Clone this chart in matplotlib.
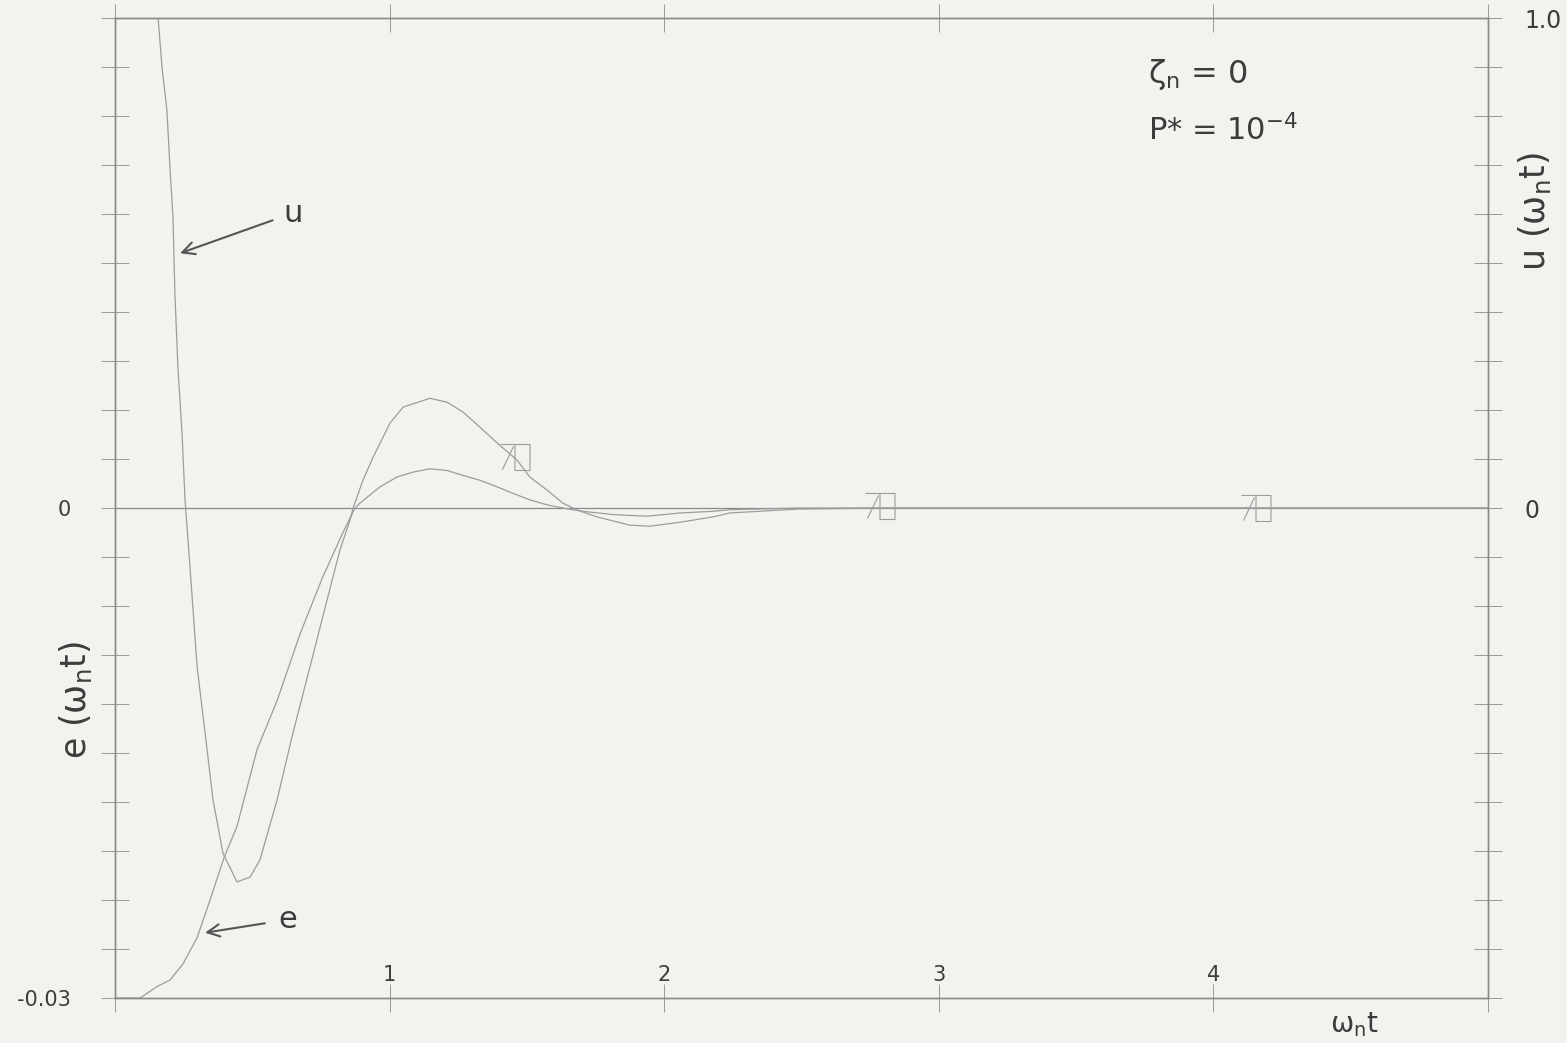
import numpy as np
import matplotlib
matplotlib.use("Agg")
from matplotlib import pyplot as plt
from matplotlib.path import Path

# control u(w_n t), right axis
t_u = [0.0, 0.157, 0.171, 0.189, 0.200, 0.211, 0.218, 0.229, 0.244, 0.255,
       0.273, 0.299, 0.328, 0.357, 0.393, 0.444, 0.492, 0.528, 0.590, 0.648,
       0.710, 0.772, 0.819, 0.856, 0.867, 0.903, 0.940, 1.001, 1.049, 1.147,
       1.209, 1.267, 1.329, 1.391, 1.464, 1.511, 1.573, 1.631, 1.682, 1.755,
       1.875, 1.948, 2.058, 2.178, 2.240, 2.49, 2.80, 5.0]
u_vals = [1.0, 1.0, 0.900, 0.812, 0.696, 0.594, 0.439, 0.288, 0.153, 0.016,
          -0.120, -0.324, -0.459, -0.596, -0.704, -0.763, -0.753, -0.718, -0.596, -0.459,
          -0.324, -0.188, -0.086, -0.024, 0.0, 0.057, 0.104, 0.173, 0.206, 0.224,
          0.216, 0.196, 0.165, 0.133, 0.098, 0.063, 0.037, 0.010, -0.004, -0.018,
          -0.035, -0.037, -0.029, -0.018, -0.010, -0.002, 0.0, 0.0]

# error e(w_n t), left axis
t_e = [0.0, 0.091, 0.153, 0.200, 0.248, 0.299, 0.346, 0.397, 0.444, 0.517,
       0.590, 0.674, 0.757, 0.830, 0.874, 0.892, 0.965, 1.027, 1.085, 1.147,
       1.209, 1.267, 1.329, 1.391, 1.449, 1.511, 1.573, 1.631, 1.704, 1.814,
       1.937, 2.058, 2.178, 2.240, 2.49, 5.0]
e_vals = [-0.0300, -0.0300, -0.0293, -0.0289, -0.0279, -0.0263, -0.0240, -0.0214, -0.0195, -0.0148,
          -0.0118, -0.0077, -0.0042, -0.0015, 0.0000, 0.0003, 0.0013, 0.0019, 0.0022, 0.0024,
          0.0023, 0.0020, 0.0017, 0.0013, 0.0009, 0.0005, 0.0002, 0.0000, -0.0002, -0.0004,
          -0.0005, -0.0003, -0.0002, -0.0001, 0.0, 0.0]

# plotter symbols along u
sym_t = [1.482, 2.811, 4.18]
sym_u = [0.105, 0.005, 0.0]

paper = "#f2f3ef"
ink = "#3c3c3c"
pen = "#9c9c9c"
frame = "#8a8a8a"

fig = plt.figure(figsize=(15.67, 10.43), dpi=100, facecolor=paper)
ax = fig.add_axes([0.0734, 0.0431, 0.8762, 0.9396], facecolor=paper)
ax2 = ax.twinx()

ax.set_xlim(0, 5)
ax.set_ylim(-0.03, 0.03)
ax2.set_ylim(-1.0, 1.0)

for a in (ax, ax2):
    for s in a.spines.values():
        s.set_color(frame)
        s.set_linewidth(1.0)

ax.axhline(0, color=frame, lw=0.9, zorder=1)

ax.plot(t_e, e_vals, color=pen, lw=0.9)
ax2.plot(t_u, u_vals, color=pen, lw=0.9)

# symbol: small "7" stroke next to a tall box
verts = [(-7.5, -13), (7.5, -13), (7.5, 13), (-7.5, 13), (-7.5, -13),
         (-22, 13), (-7.5, 13),
         (-9, 11), (-20, -12)]
codes = [Path.MOVETO, Path.LINETO, Path.LINETO, Path.LINETO, Path.CLOSEPOLY,
         Path.MOVETO, Path.LINETO,
         Path.MOVETO, Path.LINETO]
sym = Path(verts, codes)
ax2.plot(sym_t, sym_u, ls="none", marker=sym, markersize=31.7,
         markerfacecolor="none", markeredgecolor=pen, markeredgewidth=0.8)

# ticks
ax.set_xticks([0, 1, 2, 3, 4, 5])
ax.set_xticklabels(["", "1", "2", "3", "4", ""])
ax.tick_params(axis="x", direction="inout", length=20, width=0.6, color=frame,
               top=True, pad=-34, labelsize=15, labelcolor=ink)
yt = np.linspace(-0.03, 0.03, 21)
ax.set_yticks(yt)
ax.set_yticklabels(["-0.03"] + [""] * 9 + ["0"] + [""] * 10)
ax.tick_params(axis="y", direction="inout", length=20, width=0.6, color=frame,
               pad=22, labelsize=15, labelcolor=ink)
ut = np.linspace(-1.0, 1.0, 21)
ax2.set_yticks(ut)
ax2.set_yticklabels([""] * 10 + ["0"] + [""] * 9 + ["1.0"])
ax2.tick_params(axis="y", direction="inout", length=20, width=0.6, color=frame,
                pad=16, labelsize=17, labelcolor=ink)

# axis titles
ax.text(-0.029, 0.304, "e (ω$_\\mathrm{n}$t)", transform=ax.transAxes,
        fontsize=25, color=ink, rotation=90, ha="center", va="center")
ax.text(1.034, 0.802, "u (ω$_\\mathrm{n}$t)", transform=ax.transAxes,
        fontsize=25, color=ink, rotation=90, ha="center", va="center")
ax.text(0.903, -0.027, "ω$_\\mathrm{n}$t", transform=ax.transAxes,
        fontsize=20, color=ink, ha="center", va="center")

ax.text(0.752, 0.942, "ζ$_\\mathrm{n}$ = 0", transform=ax.transAxes,
        fontsize=23, color=ink, va="center")
ax.text(0.752, 0.886, "P* = 10$^{-4}$", transform=ax.transAxes,
        fontsize=22, color=ink, va="center")

ax2.annotate("u", xy=(0.237, 0.520), xytext=(0.648, 0.602), fontsize=22,
             color=ink, ha="center", va="center",
             arrowprops=dict(arrowstyle="->", color="#555555", lw=1.5,
                             shrinkA=6, shrinkB=0))
ax.annotate("e", xy=(0.328, -0.0260), xytext=(0.630, -0.0252), fontsize=22,
            color=ink, ha="center", va="center",
            arrowprops=dict(arrowstyle="->", color="#555555", lw=1.5,
                            shrinkA=8, shrinkB=0))

fig.savefig("out.png", dpi=100, facecolor=paper)
